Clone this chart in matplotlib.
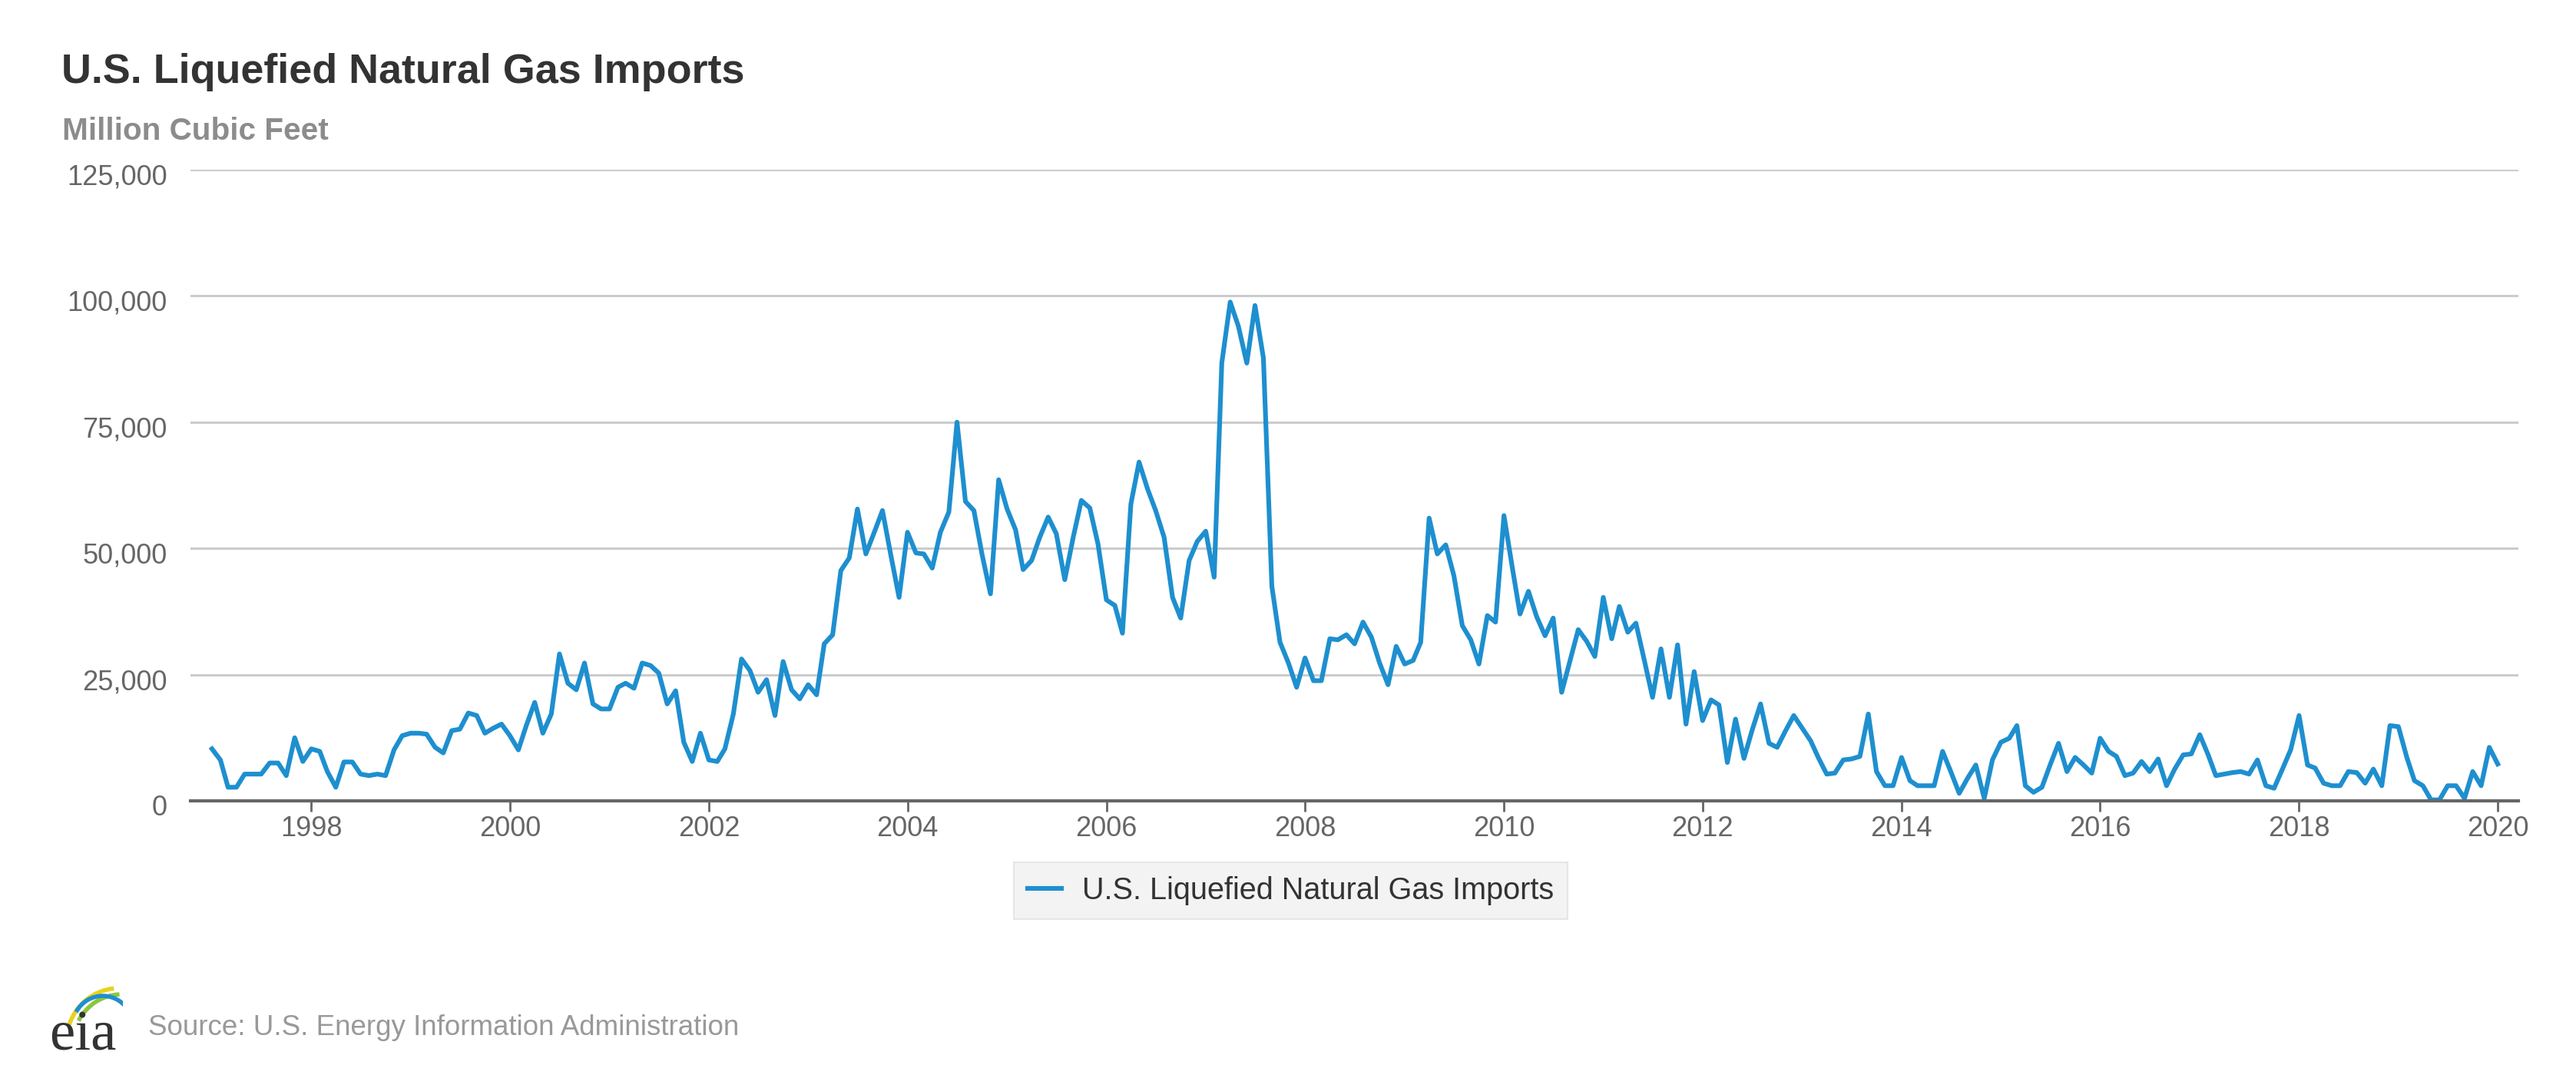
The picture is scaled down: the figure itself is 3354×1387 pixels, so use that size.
import numpy as np
import pandas as pd
import matplotlib
matplotlib.use("Agg")
import matplotlib.pyplot as plt
from matplotlib.ticker import FuncFormatter
from matplotlib.transforms import ScaledTranslation
from matplotlib.lines import Line2D
from matplotlib.patches import Arc

plt.rcParams['font.family'] = ['Liberation Sans', 'DejaVu Sans']

line_col = "#1e8fcf"
grid_col = "#cccccc"
text_col = "#666666"

# monthly LNG imports, million cubic feet
imports_1997_2001 = [
    10300, 8100, 2700, 2700, 5300, 5300, 5300, 7500, 7500, 5000, 12500, 7800,
    10300, 9800, 5800, 2700, 7700, 7700, 5300, 5000, 5300, 5000, 10100, 12900,
    13400, 13400, 13200, 10600, 9500, 13900, 14200, 17400, 16900, 13400, 14400, 15200,
    12900, 10100, 14900, 19500, 13400, 17200, 29100, 23300, 22000, 27300, 19200, 18200,
    18200, 22500, 23300, 22300, 27300, 26800, 25300, 19200, 21800, 11600, 7800, 13400,
]
imports_2002_2006 = [
    8100, 7800, 10300, 17200, 28100, 25800, 21500, 24000, 16900, 27600, 22000, 20200,
    23000, 21000, 31100, 32900, 45600, 48100, 57800, 48900, 53200, 57500, 48600, 40300,
    53200, 49100, 48900, 46100, 53200, 57200, 75000, 59300, 57500, 48800, 41000, 63600,
    57800, 53700, 45800, 47600, 52200, 56200, 52900, 43800, 52200, 59500, 58000, 50900,
    39800, 38700, 33200, 58800, 67100, 61800, 57500, 52200, 40300, 36200, 47600, 51400,
]
imports_2007_2011 = [
    53400, 44300, 86700, 98800, 94000, 86700, 98100, 87700, 42500, 31400, 27300, 22500,
    28300, 23800, 23800, 32100, 31900, 32900, 31100, 35400, 32400, 27300, 23000, 30600,
    27100, 27800, 31400, 56000, 48900, 50700, 44600, 34700, 31900, 27100, 36700, 35400,
    56500, 46100, 37000, 41500, 36500, 32700, 36200, 21500, 27800, 33900, 31600, 28600,
    40300, 32100, 38500, 33400, 35200, 27800, 20500, 30100, 20500, 30900, 15200, 25600,
]
imports_2012_2016 = [
    15900, 20000, 19000, 7600, 16200, 8400, 14000, 19200, 11400, 10600, 13900, 16900,
    14400, 11900, 8600, 5300, 5500, 8100, 8300, 8800, 17200, 5800, 3000, 3000,
    8600, 4000, 3000, 3000, 3000, 9800, 5800, 1500, 4500, 7100, 500, 8100,
    11600, 12400, 14900, 3000, 1700, 2700, 7100, 11400, 5800, 8600, 7100, 5500,
    12400, 9800, 8800, 5000, 5500, 7800, 5800, 8300, 3000, 6300, 9100, 9300,
]
imports_2017_2020 = [
    13100, 9100, 5000, 5300, 5600, 5800, 5300, 8100, 3000, 2500, 6300, 10100,
    16900, 7100, 6500, 3500, 3000, 3000, 5800, 5600, 3500, 6300, 3000, 14900,
    14700, 8600, 4000, 3000, 200, 200, 3000, 3000, 500, 5800, 3000, 10600,
    7300,
]

values = (imports_1997_2001 + imports_2002_2006 + imports_2007_2011
          + imports_2012_2016 + imports_2017_2020)
dates = pd.date_range("1997-01-01", periods=len(values), freq="MS")

tick_years = list(range(1998, 2021, 2))
y_ticks = [0, 25000, 50000, 75000, 100000, 125000]

W, H = 3355, 1387
fig = plt.figure(figsize=(W / 100, H / 100), dpi=100)
ax = fig.add_axes([248 / W, 1 - 1043 / H, (3279 - 248) / W, (1043 - 221) / H])

ax.plot(dates, values, color=line_col, lw=4.4, solid_joinstyle="round",
        label="U.S. Liquefied Natural Gas Imports", zorder=3)

ax.set_ylim(0, 125000)
ax.set_xlim(pd.Timestamp("1996-10-14"), pd.Timestamp("2020-03-17"))

ax.set_yticks(y_ticks)
ax.yaxis.set_major_formatter(FuncFormatter(lambda v, p: f"{int(v):,}"))
ax.set_xticks([pd.Timestamp(f"{y}-01-01") for y in tick_years])
ax.set_xticklabels([str(y) for y in tick_years])

ax.grid(axis="y", color=grid_col, lw=2.2)
ax.set_axisbelow(True)
for side in ["top", "right", "left"]:
    ax.spines[side].set_visible(False)
ax.spines["bottom"].set_color("#666666")
ax.spines["bottom"].set_linewidth(3)
ax.spines["bottom"].set_zorder(4)

ax.tick_params(axis="y", length=0, pad=22, labelsize=26, labelcolor=text_col)
ax.tick_params(axis="x", length=10, width=2, color="#666666", pad=4,
               labelsize=26, labelcolor=text_col)

offset = ScaledTranslation(0, -6 / 100, fig.dpi_scale_trans)
for lab in ax.get_yticklabels():
    lab.set_transform(lab.get_transform() + offset)

# titles
fig.text(80 / W, 1 - 108 / H, "U.S. Liquefied Natural Gas Imports",
         fontsize=38.8, fontweight="bold", color="#333333", va="baseline")
fig.text(81 / W, 1 - 182 / H, "Million Cubic Feet",
         fontsize=29.2, fontweight="bold", color="#8c8c8c", va="baseline")

# legend
leg = ax.legend(
    handles=[Line2D([], [], color=line_col, lw=4.4)],
    labels=["U.S. Liquefied Natural Gas Imports"],
    loc="center", bbox_to_anchor=(0.501, 1 - 1160 / H),
    bbox_transform=fig.transFigure, fontsize=28.5, frameon=True,
    fancybox=False, facecolor="#f0f0f0", edgecolor="#e2e2e2",
    handlelength=1.1, handletextpad=0.7, borderpad=0.45,
)
leg.get_frame().set_linewidth(1.5)
for t in leg.get_texts():
    t.set_color("#333333")

# source line with a small eia mark
fig.text(193 / W, 1 - 1348 / H, "Source: U.S. Energy Information Administration",
         fontsize=26.5, color="#999999", va="baseline")

logo = fig.add_axes([55 / W, 1 - 1372 / H, 105 / W, 100 / H])
logo.set_xlim(0, 1)
logo.set_ylim(0, 1)
logo.axis("off")
logo.text(0.5, 0.05, "eia", family=["Liberation Serif", "DejaVu Serif"],
          fontsize=54, color="#333333", ha="center", va="baseline")
logo.add_patch(Arc((0.95, 0.15), 1.3, 1.4, theta1=95, theta2=160,
                   color="#e8d21c", lw=4))
logo.add_patch(Arc((0.98, 0.12), 1.2, 1.3, theta1=92, theta2=150,
                   color="#8cc63f", lw=4))
logo.add_patch(Arc((0.75, 0.35), 0.75, 0.8, theta1=30, theta2=150,
                   color="#1e8fcf", lw=4))

fig.savefig("out.png", dpi=100, facecolor="white")
